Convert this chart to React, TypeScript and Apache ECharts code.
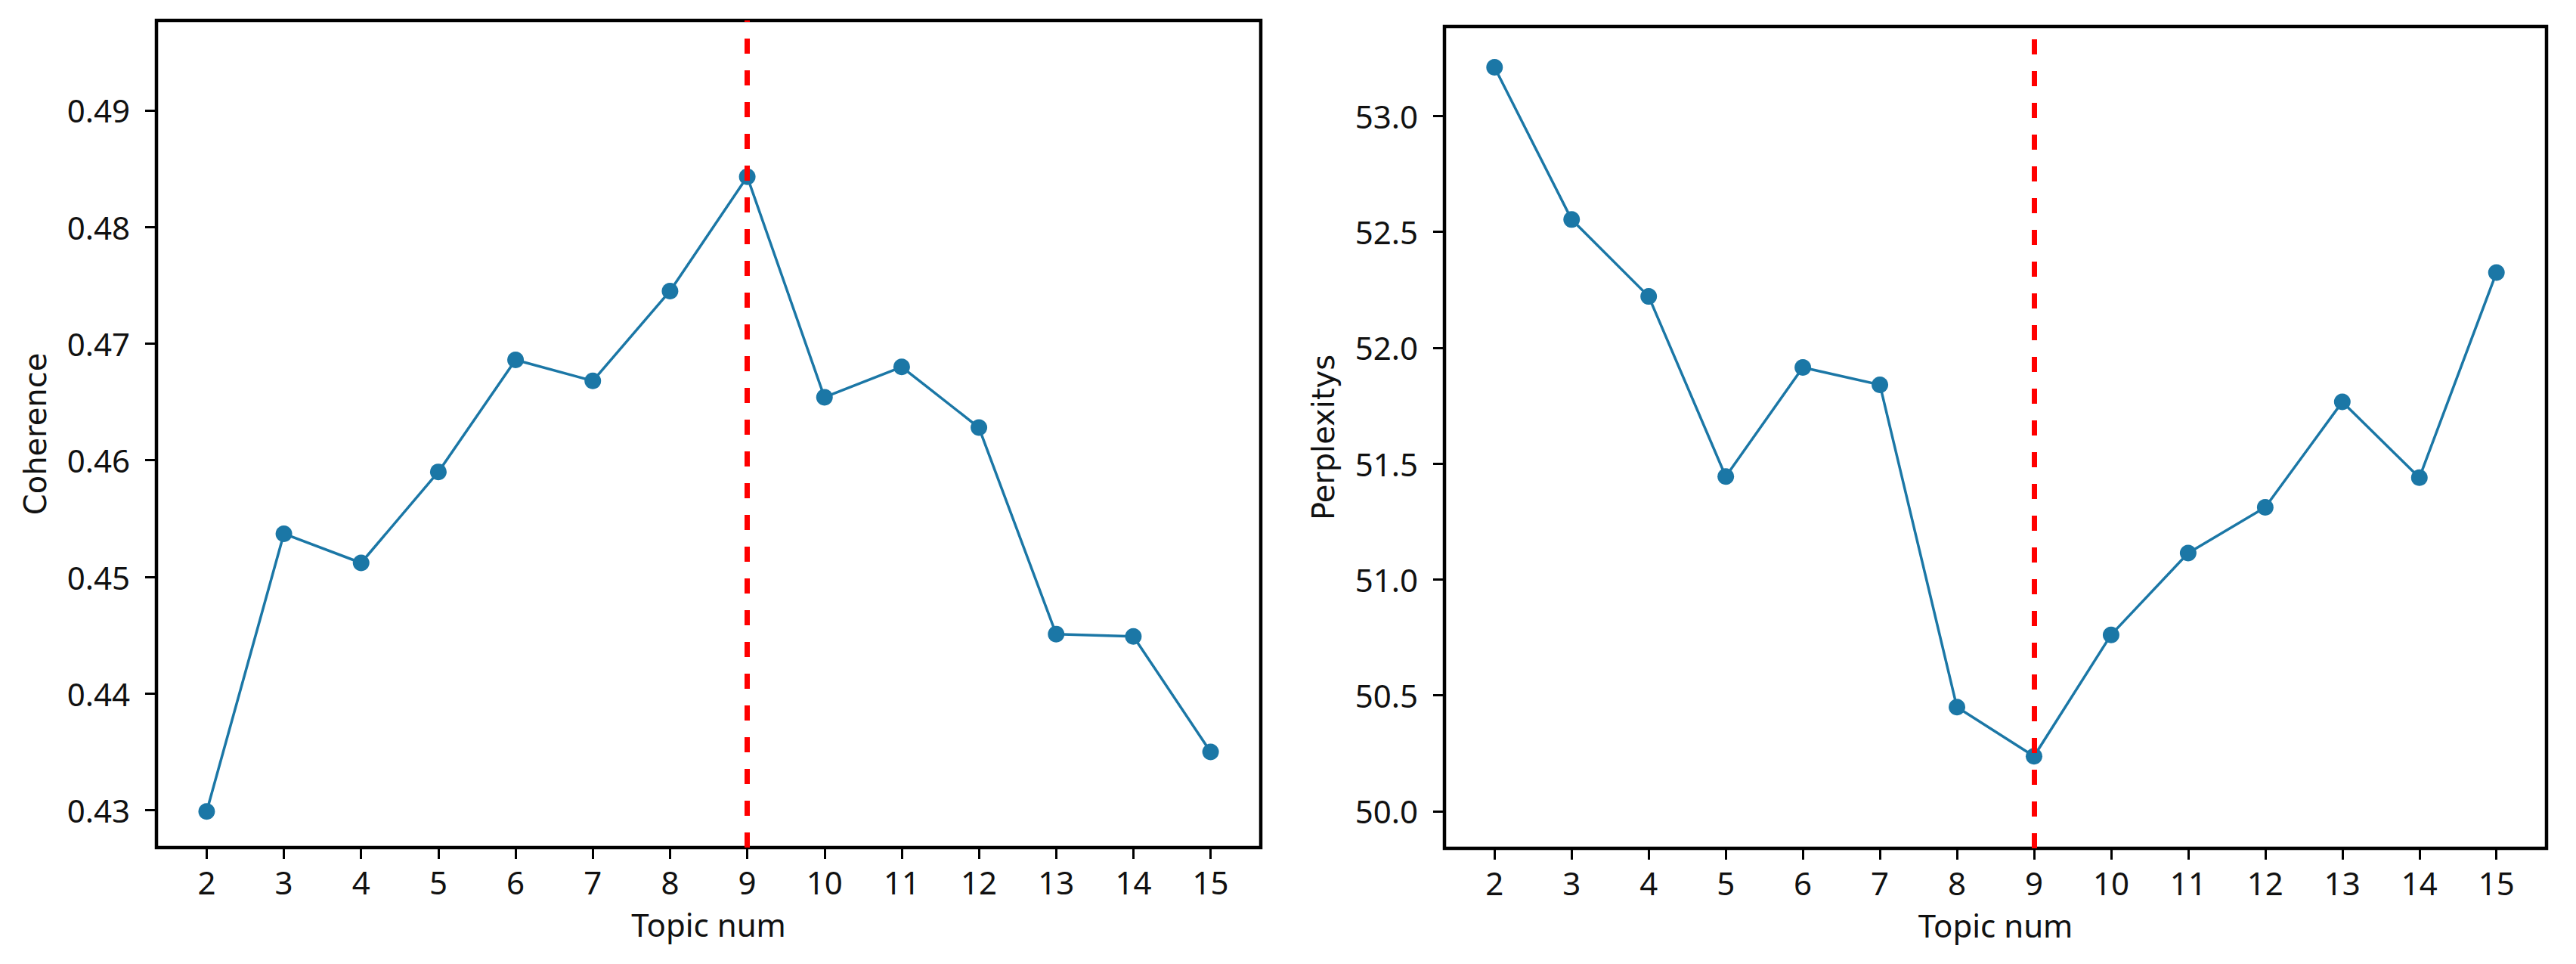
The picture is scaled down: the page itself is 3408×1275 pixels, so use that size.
import { useEffect, useRef } from 'react'
import * as echarts from 'echarts'

// topic counts on the x axis
const topics = [2, 3, 4, 5, 6, 7, 8, 9, 10, 11, 12, 13, 14, 15]

// coherence score per topic count
const coherence = [
  0.4299, 0.4537, 0.4512, 0.459, 0.4686, 0.4668, 0.4745, 0.4843, 0.4654, 0.468,
  0.4628, 0.4451, 0.4449, 0.435,
]

// perplexity per topic count
const perplexity = [
  53.21, 52.553, 52.221, 51.444, 51.915, 51.84, 50.449, 50.237, 50.761, 51.114,
  51.311, 51.766, 51.439, 52.324,
]

const coherenceTicks = [0.43, 0.44, 0.45, 0.46, 0.47, 0.48, 0.49]
const perplexityTicks = [50.0, 50.5, 51.0, 51.5, 52.0, 52.5, 53.0]

// chosen topic number (red dashed line)
const bestTopic = 9

const lineColor = '#1b77a6'
const tickFont = 'Noto Sans'
const nameFont = 'DejaVu Sans'

export default function App() {
  const chartRef = useRef<HTMLDivElement>(null)

  useEffect(() => {
    if (!chartRef.current) return
    const chart = echarts.init(chartRef.current, undefined, { renderer: 'svg' })

    const xAxisFor = (gridIndex: number) => ({
      type: 'value',
      gridIndex,
      min: 1.35,
      max: 15.65,
      name: 'Topic num',
      nameLocation: 'middle',
      nameGap: 80,
      nameTextStyle: { fontFamily: tickFont, fontSize: 42, color: '#111' },
      splitLine: { show: false },
      axisLine: { show: false },
      axisTick: {
        show: true,
        customValues: topics,
        length: 15,
        lineStyle: { color: '#000', width: 3 },
      },
      axisLabel: {
        customValues: topics,
        margin: 24,
        fontFamily: tickFont,
        fontSize: 42,
        color: '#111',
      },
    })

    const yAxisFor = (
      gridIndex: number,
      name: string,
      min: number,
      max: number,
      ticks: number[],
      digits: number
    ) => ({
      type: 'value',
      gridIndex,
      min,
      max,
      name,
      nameLocation: 'middle',
      nameGap: 140,
      nameTextStyle: { fontFamily: nameFont, fontSize: 40, color: '#111' },
      splitLine: { show: false },
      axisLine: { show: false },
      axisTick: {
        show: true,
        customValues: ticks,
        length: 15,
        lineStyle: { color: '#000', width: 3 },
      },
      axisLabel: {
        customValues: ticks,
        margin: 35,
        fontFamily: tickFont,
        fontSize: 42,
        color: '#111',
        formatter: (v: number) => v.toFixed(digits),
      },
    })

    const bestLine = {
      silent: true,
      symbol: ['none', 'none'],
      label: { show: false },
      lineStyle: { color: '#ff0000', width: 7, type: [20, 22] },
      data: [{ xAxis: bestTopic }],
    }

    const option = {
      animation: false,
      backgroundColor: '#fff',
      grid: [
        {
          left: 207, top: 27, width: 1461, height: 1094,
          show: true, borderColor: '#000', borderWidth: 4.5,
        },
        {
          left: 1911, top: 35, width: 1458, height: 1087,
          show: true, borderColor: '#000', borderWidth: 4.5,
        },
      ],
      xAxis: [xAxisFor(0), xAxisFor(1)],
      yAxis: [
        yAxisFor(0, 'Coherence', 0.4268, 0.4977, coherenceTicks, 2),
        yAxisFor(1, 'Perplexitys', 49.84, 53.386, perplexityTicks, 1),
      ],
      series: [
        {
          type: 'line',
          xAxisIndex: 0,
          yAxisIndex: 0,
          data: topics.map((t, i) => [t, coherence[i]]),
          symbol: 'circle',
          symbolSize: 22,
          lineStyle: { color: lineColor, width: 3.5 },
          itemStyle: { color: lineColor },
          markLine: bestLine,
        },
        {
          type: 'line',
          xAxisIndex: 1,
          yAxisIndex: 1,
          data: topics.map((t, i) => [t, perplexity[i]]),
          symbol: 'circle',
          symbolSize: 22,
          lineStyle: { color: lineColor, width: 3.5 },
          itemStyle: { color: lineColor },
          markLine: bestLine,
        },
      ],
    }

    chart.setOption(option)

    return () => {
      chart.dispose()
    }
  }, [])

  return (
    <div
      ref={chartRef}
      style={{ position: 'fixed', left: 0, top: 0, width: 3408, height: 1275 }}
    />
  )
}
